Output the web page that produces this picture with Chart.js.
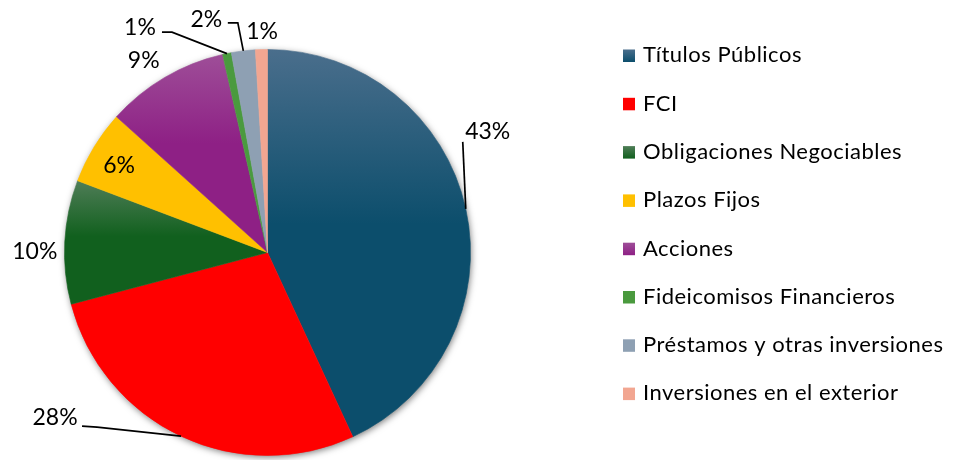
<!DOCTYPE html>
<html><head><meta charset="utf-8">
<script src="https://cdn.jsdelivr.net/npm/chart.js@4"></script>
<style>html,body{margin:0;padding:0;background:#fff;} canvas{display:block;}</style>
</head><body>
<canvas id="c" width="957" height="460"></canvas>
<script>
// ---- data ----
const categories = ["Títulos Públicos","FCI","Obligaciones Negociables","Plazos Fijos","Acciones","Fideicomisos Financieros","Préstamos y otras inversiones","Inversiones en el exterior"];
const shares = [43.1, 27.8, 9.85, 5.9, 9.8, 0.7, 1.9, 0.95];
const shareLabels = ["43%","28%","10%","6%","9%","1%","2%","1%"];

// ---- style ----
const baseColors = ["#0C4E6C","#FF0000","#11601E","#FFC000","#8E2085","#4A9A3E","#8EA0B3","#F2A691"];
const topColors  = ["#4A6E8C","#FF0000","#4F7D57","#FFC000","#9E4E98","#4A9A3E","#8EA0B3","#F2A691"];
const PIE_RADIUS = 203;
// label placement: offset (px) of the label centre from the slice's outer-rim midpoint
const labelOffsets = [[22,-78],[-126,-19.5],[-30,9],[25,18],[-21,-17],[-87,-26.5],[-37,-32],[0.7,-19]];
// leader line points relative to the label centre (line starts at rim midpoint)
const leaders = [[[-25,11]], [[42,10.5],[27,9.5]], null, null, null, [[32,5],[22,5]], [[31.5,4],[21.5,4]], null];
const LABEL_FONT = "23px Lato";
const LEGEND_FONT = "22px Lato";

function sliceBounds(chart, i) {
  const ca = chart.chartArea;
  const cx = (ca.left + ca.right) / 2, cy = (ca.top + ca.bottom) / 2;
  const data = chart.data.datasets[0].data;
  const total = data.reduce((a, b) => a + b, 0);
  let acc = 0;
  for (let k = 0; k < i; k++) acc += data[k];
  const a0 = -Math.PI / 2 + acc / total * 2 * Math.PI;
  const a1 = a0 + data[i] / total * 2 * Math.PI;
  const ys = [cy, cy + PIE_RADIUS * Math.sin(a0), cy + PIE_RADIUS * Math.sin(a1)];
  for (let k = -4; k <= 8; k++) {
    const a = k * Math.PI / 2;
    if (a > a0 && a < a1) ys.push(cy + PIE_RADIUS * Math.sin(a));
  }
  return {top: Math.min(...ys), bottom: Math.max(...ys)};
}

function sliceFill(context) {
  const chart = context.chart;
  const i = context.dataIndex;
  if (!chart.chartArea || i === undefined) return baseColors[i] || '#000';
  if (topColors[i] === baseColors[i]) return baseColors[i];
  const b = sliceBounds(chart, i);
  const g = chart.ctx.createLinearGradient(0, b.top, 0, b.bottom);
  g.addColorStop(0, topColors[i]);
  g.addColorStop(0.45, baseColors[i]);
  g.addColorStop(1, baseColors[i]);
  return g;
}

const shadowPlugin = {
  id: 'pieShadow',
  beforeDatasetsDraw(chart) {
    const arc = chart.getDatasetMeta(0).data[0];
    const {x, y, outerRadius} = arc.getProps(['x', 'y', 'outerRadius'], true);
    const ctx = chart.ctx;
    ctx.save();
    ctx.shadowColor = 'rgba(0,0,0,0.55)';
    ctx.shadowBlur = 7;
    ctx.shadowOffsetX = 1;
    ctx.shadowOffsetY = 2;
    ctx.beginPath();
    ctx.arc(x, y, outerRadius - 0.5, 0, Math.PI * 2);
    ctx.fillStyle = '#fff';
    ctx.fill();
    ctx.restore();
  }
};

const labelPlugin = {
  id: 'pieLabels',
  afterDatasetsDraw(chart) {
    const ctx = chart.ctx;
    const meta = chart.getDatasetMeta(0);
    meta.data.forEach((arc, i) => {
      const p = arc.getProps(['x', 'y', 'startAngle', 'endAngle', 'outerRadius'], true);
      const mid = (p.startAngle + p.endAngle) / 2;
      const rx = p.x + p.outerRadius * Math.cos(mid);
      const ry = p.y + p.outerRadius * Math.sin(mid);
      const lx = rx + labelOffsets[i][0];
      const ly = ry + labelOffsets[i][1];
      ctx.save();
      if (leaders[i]) {
        ctx.strokeStyle = '#000';
        ctx.lineWidth = 1.7;
        ctx.beginPath();
        ctx.moveTo(rx, ry);
        leaders[i].forEach(pt => ctx.lineTo(lx + pt[0], ly + pt[1]));
        ctx.stroke();
      }
      ctx.font = LABEL_FONT;
      ctx.fillStyle = '#000';
      ctx.textAlign = 'center';
      ctx.textBaseline = 'alphabetic';
      ctx.fillText(shareLabels[i], lx, ly + 8);
      ctx.restore();
    });
  }
};

const legendPlugin = {
  id: 'sideLegend',
  afterDraw(chart) {
    const ctx = chart.ctx;
    chart.data.labels.forEach((lab, i) => {
      const bx = 623, by = 49.5 + 48.3 * i;
      const g = ctx.createLinearGradient(0, by, 0, by + 12.5);
      g.addColorStop(0, topColors[i]);
      g.addColorStop(1, baseColors[i]);
      ctx.save();
      ctx.fillStyle = g;
      ctx.fillRect(bx, by, 12, 12.5);
      ctx.font = LEGEND_FONT;
      if ('letterSpacing' in ctx) ctx.letterSpacing = '0.5px';
      ctx.fillStyle = '#000';
      ctx.textAlign = 'left';
      ctx.textBaseline = 'alphabetic';
      ctx.fillText(lab, 643, 62.3 + 48.3 * i);
      ctx.restore();
    });
  }
};

new Chart(document.getElementById('c'), {
  type: 'pie',
  data: {
    labels: categories,
    datasets: [{
      data: shares,
      backgroundColor: sliceFill,
      borderColor: sliceFill,
      borderWidth: 0.6,
      radius: PIE_RADIUS
    }]
  },
  options: {
    responsive: false,
    animation: false,
    events: [],
    layout: {padding: {left: 60, right: 482, top: 46, bottom: 1}},
    plugins: {legend: {display: false}, tooltip: {enabled: false}}
  },
  plugins: [shadowPlugin, labelPlugin, legendPlugin]
});
</script>
</body></html>
